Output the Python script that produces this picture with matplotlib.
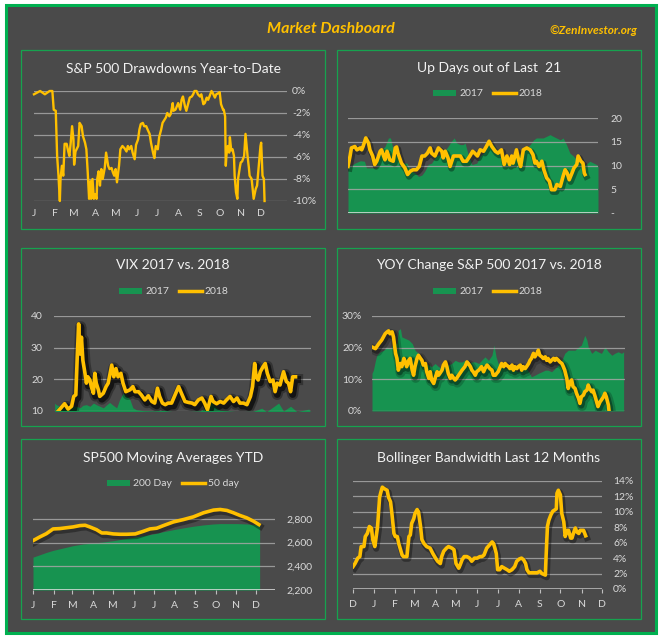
import matplotlib.pyplot as plt
import matplotlib.patheffects as pe
from matplotlib.patches import Rectangle, Patch
from matplotlib.lines import Line2D

plt.rcParams['font.family'] = ['Lato', 'DejaVu Sans']

# ---- data (x = day of year) ----
months = ['J', 'F', 'M', 'A', 'M', 'J', 'J', 'A', 'S', 'O', 'N', 'D']
month_day = [0, 31, 59, 90, 120, 151, 181, 212, 243, 273, 304, 334]
bb_months = ['D'] + months
bb_month_day = [0, 31, 62, 90, 121, 151, 182, 212, 243, 274, 304, 335, 365]

dd_day = [0, 9, 16, 23, 27, 29, 32, 34, 36, 38,
          39, 41, 43, 45, 48, 50, 52, 54, 56, 58,
          59, 61, 65, 67, 70, 72, 75, 77, 79, 81,
          83, 84, 86, 88, 90, 92, 93, 95, 97, 98,
          99, 101, 104, 106, 109, 111, 114, 116, 118, 120,
          122, 125, 127, 130, 133, 136, 138, 140, 143, 145,
          148, 150, 153, 155, 157, 160, 162, 165, 167, 170,
          172, 175, 177, 179, 182, 184, 187, 189, 192, 194,
          196, 199, 201, 204, 205, 208, 210, 212, 215, 217,
          219, 222, 224, 227, 229, 232, 234, 236, 239, 241,
          244, 246, 249, 251, 254, 256, 258, 261, 263, 266,
          268, 271, 273, 275, 278, 279, 281, 282, 283, 285,
          287, 288, 290, 292, 294, 295, 297, 299, 300, 303,
          304, 306, 309, 311, 314, 316, 317, 320, 322, 323,
          326, 328, 331, 333, 334, 336, 338, 339]
dd_pct = [-0.3, 0, -0.3, 0, 0, -1.7, -1.8, -5.9, -7.7, -10,
          -8, -6.8, -7.7, -4.8, -4.8, -5.4, -5.9, -4.7, -3.2, -4.4,
          -6.7, -5.5, -5.0, -2.9, -3.2, -4.1, -4.7, -5.3, -7.4, -9.8,
          -8.2, -9.8, -8.0, -9.8, -9.4, -9.8, -8.0, -7.3, -8.6, -7.7,
          -7.1, -8.0, -7.0, -5.6, -6.8, -7.1, -7.0, -7.4, -7.7, -7.1,
          -8.3, -6.8, -5.3, -5.0, -5.2, -5.5, -5.0, -5.3, -5.0, -5.6,
          -6.2, -4.9, -4.4, -3.5, -3.0, -2.9, -3.2, -3.2, -3.5, -3.9,
          -4.7, -5.6, -6.1, -5.0, -5.3, -4.2, -3.5, -2.9, -2.6, -2.4,
          -2.0, -2.3, -2.1, -1.1, -1.8, -1.7, -1.4, -1.1, -1.7, -0.8,
          -0.5, -1.4, -1.8, -1.1, -0.6, -0.5, -0.3, 0, 0, -0.3,
          -0.5, -0.3, -1.2, -1.1, -0.6, -0.8, -0.5, 0, -0.2, -0.6,
          -0.3, -0.2, -0.1, -1.2, -1.7, -1.7, -2.3, -6.8, -5.8, -5.0,
          -5.6, -4.2, -5.4, -5.3, -5.9, -7.7, -9.2, -9.8, -8.0, -6.8,
          -6.5, -6.4, -5.9, -3.9, -5.9, -7.0, -7.7, -8.0, -9.2, -9.8,
          -8.9, -8.6, -6.5, -5.0, -4.7, -7.7, -8.0, -10]

up17_day = [0, 3, 10, 18, 24, 27, 42, 44, 49, 54,
            59, 62, 66, 71, 76, 86, 91, 98, 103, 108,
            112, 117, 122, 129, 139, 146, 151, 155, 159, 164,
            168, 171, 176, 181, 188, 193, 198, 202, 207, 212,
            217, 222, 227, 232, 239, 246, 254, 261, 266, 271,
            275, 285, 295, 300, 310, 314, 319, 324, 329, 334,
            339, 344, 353, 363, 365]
up17_val = [9.8, 9.8, 10.5, 11, 10.9, 9.5, 9.5, 12, 13.3, 14,
            15.8, 15.8, 13.3, 12, 10.5, 10.5, 9, 8.4, 7.7, 8,
            8.8, 10.2, 10.5, 12, 12.6, 14, 15.1, 15.8, 14.7, 14.4,
            14.4, 14.7, 12, 10.2, 10.5, 12, 12.6, 13.7, 14.7, 14.4,
            13.3, 12, 10.9, 10.5, 11.2, 12, 12.6, 13.7, 14.4, 15.4,
            15.8, 15.8, 16.5, 16.1, 15.4, 15.8, 14.4, 12.6, 12, 11.2,
            10.5, 9.8, 10.9, 10.2, 9.8]
up18_day = [0, 3, 5, 10, 13, 18, 20, 22, 26, 30,
            32, 36, 39, 42, 47, 49, 52, 54, 57, 61,
            66, 69, 71, 73, 78, 83, 87, 91, 95, 100,
            104, 108, 112, 116, 120, 122, 127, 132, 137, 139,
            142, 146, 149, 154, 159, 164, 168, 173, 178, 182,
            185, 189, 193, 198, 202, 206, 210, 215, 219, 224,
            228, 232, 236, 239, 241, 246, 249, 252, 256, 261,
            266, 270, 273, 275, 279, 283, 286, 290, 294, 297,
            302, 305, 310, 314, 317, 320, 323, 327, 330, 334,
            336, 340, 343, 345, 346]
up18_val = [9.8, 12, 13.7, 14, 13.3, 13.7, 13.3, 14, 15.8, 14.7,
            13.3, 12, 10.2, 10.9, 13, 13.3, 12, 11.2, 13, 11.2,
            10.9, 13.7, 13.9, 12.6, 10.5, 9.5, 8.1, 8.8, 9.1, 9.1,
            9.8, 12, 12, 12.6, 13.7, 12.6, 12, 13.7, 13, 11.6,
            13, 11.6, 9.8, 12, 12, 12, 10.9, 10.9, 12, 13,
            12.6, 12, 13.3, 13, 14, 15.1, 14, 13, 12.6, 13.3,
            10.2, 12, 10.2, 12, 10.5, 13.3, 11.2, 9.8, 13.3, 13.7,
            13.3, 12.3, 10.5, 10.9, 9.8, 10.9, 9.1, 7.4, 6.7, 4.9,
            4.9, 6, 5.6, 7.7, 9.1, 8.4, 7, 8.4, 9.5, 10.2,
            12, 10.9, 10.5, 8.4, 8.1]

vix17_day = [1, 3, 8, 13, 18, 22, 27, 32, 37, 41,
             46, 51, 56, 60, 65, 70, 75, 79, 84, 89,
             93, 98, 103, 108, 112, 117, 127, 141, 155, 169,
             188, 207, 217, 222, 226, 236, 260, 283, 295, 302,
             319, 326, 336, 345, 362, 364]
vix17_val = [12.5, 12, 11.5, 11, 10.4, 10.4, 11.5, 11.5, 11, 11.8,
             12, 11.5, 12.5, 12, 11.5, 11, 12, 12.7, 11.8, 11,
             13.5, 15.6, 15, 13.5, 11, 10.4, 10.1, 10, 10.2, 9.8,
             9.8, 10, 11, 15.6, 12, 10.2, 9.8, 9.9, 10.9, 9.8,
             12.5, 10, 11.5, 9.8, 10.6, 9.8]
vix18_day = [6, 10, 15, 20, 25, 28, 31, 33, 35, 37,
             39, 41, 44, 46, 48, 51, 53, 56, 58, 60,
             63, 65, 70, 74, 77, 82, 85, 88, 91, 95,
             98, 102, 108, 112, 115, 120, 124, 129, 134, 139,
             143, 147, 150, 154, 158, 162, 167, 172, 177, 181,
             186, 191, 196, 200, 205, 210, 214, 218, 223, 226,
             231, 236, 241, 245, 250, 255, 260, 264, 269, 274,
             279, 282, 285, 287, 290, 293, 297, 300, 303, 307,
             311, 314, 317, 321, 326, 330, 333, 336, 339, 343]
vix18_val = [10, 11, 12.3, 10.6, 11.5, 14.6, 15.1, 27, 37.5, 28,
             33.3, 26, 21.9, 18.8, 20.8, 19.8, 17.7, 15.6, 21.9, 18.8,
             16.7, 14.6, 15.6, 17.7, 18.8, 24.5, 20.8, 23.4, 20.8, 21.9,
             18.8, 16.1, 16.7, 17.7, 16.1, 16.1, 15.1, 13.5, 14.8, 13,
             12.5, 17.2, 14.6, 12.5, 12, 12.5, 12.5, 15.1, 17.7, 15.6,
             13, 12.7, 12.5, 12, 13.5, 14.1, 12.5, 10.4, 14.6, 13,
             12.3, 13, 12.5, 13.5, 14.6, 13, 14.1, 12.5, 12.5, 12,
             14.6, 17.7, 25, 20.8, 19.8, 22.4, 24, 25, 21.9, 19.3,
             19.8, 16.1, 18.8, 18.2, 22.4, 19.3, 18.8, 16.1, 20.8, 20.8]

yoy17_day = [0, 2, 5, 7, 12, 17, 22, 26, 31, 36,
             38, 41, 43, 48, 53, 58, 62, 67, 72, 77,
             82, 86, 91, 96, 101, 106, 110, 115, 120, 125,
             130, 134, 139, 144, 149, 154, 158, 163, 168, 173,
             176, 179, 182, 187, 192, 197, 202, 206, 211, 216,
             221, 226, 230, 235, 240, 245, 250, 254, 259, 264,
             269, 274, 278, 283, 288, 293, 298, 302, 307, 310,
             312, 317, 322, 326, 331, 336, 341, 346, 350, 355,
             360, 363]
yoy17_val = [11.9, 12.9, 16, 17.6, 18.7, 19.2, 20.2, 19.7, 21.3, 21.3,
             25.5, 26, 23.4, 22.9, 22.4, 21.3, 19.2, 18.2, 16, 15,
             14.5, 14, 15, 14, 13.4, 15, 14.5, 15, 16, 15.5,
             15.5, 16, 15, 15.5, 15.5, 15, 16, 17.1, 16, 17.6,
             20.8, 17.1, 15, 14.5, 13.4, 13.4, 13.4, 12.9, 12.4, 13.4,
             14, 12.4, 10.8, 11.3, 11.9, 12.4, 12.9, 12.9, 12.4, 13.4,
             14.5, 16, 18.2, 19.2, 19.2, 19.2, 20.2, 20.8, 23.9, 22.4,
             20.2, 18.2, 19.2, 18.7, 18.2, 20.2, 18.7, 17.6, 18.2, 18.7,
             18.2, 18.7]
yoy18_day = [0, 5, 10, 14, 19, 22, 24, 26, 29, 31,
             34, 36, 38, 41, 43, 46, 48, 50, 53, 55,
             58, 60, 62, 65, 67, 70, 72, 74, 77, 79,
             82, 84, 86, 89, 91, 94, 96, 98, 101, 103,
             106, 108, 110, 113, 115, 118, 120, 122, 125, 130,
             134, 137, 139, 142, 144, 146, 149, 151, 154, 156,
             158, 161, 163, 166, 168, 170, 173, 175, 178, 180,
             182, 185, 187, 190, 192, 194, 197, 199, 202, 204,
             206, 209, 211, 214, 216, 218, 221, 223, 226, 228,
             230, 233, 235, 238, 240, 242, 245, 247, 250, 252,
             254, 257, 259, 262, 264, 266, 269, 271, 274, 276,
             278, 281, 283, 286, 288, 290, 293, 295, 298, 300,
             302, 305, 307, 310, 312, 314, 317, 319, 322, 324,
             326, 329, 331, 334, 336, 338, 341, 342]
yoy18_val = [20.2, 19.7, 21.3, 22.4, 24.4, 25, 25.3, 24.4, 25, 23.4,
             18.2, 16.6, 12.9, 15, 14, 16.6, 15.5, 14, 16, 16.6,
             12.9, 11.3, 14, 16.6, 17.6, 16.6, 16, 14.5, 15, 12.4,
             10.3, 12.4, 9.8, 8.7, 10.3, 12.4, 11.3, 11.9, 12.9, 14.5,
             15.5, 14, 11.9, 10.3, 11.3, 10.3, 9.8, 10.3, 11.3, 12.9,
             14, 15.5, 15, 14, 12.9, 12.4, 11.3, 12.4, 12.9, 13.4,
             14, 12.4, 13.4, 14.5, 14, 13.4, 12.9, 11.3, 11.3, 11.9,
             12.4, 14, 15, 14, 15, 14.5, 14, 13.4, 14.5, 12.9,
             14, 13.4, 14, 14.5, 12.9, 14, 13.4, 14, 15, 16,
             16.6, 18.2, 17.1, 18.2, 19.2, 17.6, 17.1, 16.6, 17.1, 16,
             16.6, 15.5, 16, 16.6, 16, 16.6, 16, 15.5, 15, 14,
             12.9, 10.3, 7.1, 9.2, 9.8, 7.7, 7.1, 5.6, 4, 2.4,
             4.5, 5, 6.1, 6.6, 8.2, 7.1, 6.1, 6.6, 4.5, 2.9,
             1.4, 2.9, 3.5, 4.5, 5.6, 4.5, 1.9, 0]

ma200_day = [0, 10, 20, 30, 45, 60, 75, 90, 105, 120, 135, 150, 165,
             180, 195, 210, 225, 240, 255, 270, 280, 305, 320, 330, 339]
ma200_val = [2477, 2497, 2517, 2534, 2554, 2574, 2588, 2596, 2605, 2616,
             2630, 2644, 2658, 2673, 2692, 2709, 2724, 2738, 2749, 2757,
             2760, 2760, 2757, 2752, 2746]
ma50_day = [0, 10, 20, 30, 40, 50, 60, 70, 78, 85, 95, 103, 110, 120,
            130, 140, 153, 165, 175, 185, 195, 210, 225, 240, 255, 270,
            280, 290, 300, 310, 320, 330, 338]
ma50_val = [2616, 2647, 2675, 2715, 2718, 2725, 2732, 2743, 2746, 2732,
            2709, 2681, 2681, 2673, 2670, 2670, 2673, 2695, 2715, 2721,
            2743, 2774, 2794, 2817, 2851, 2874, 2879, 2871, 2851, 2828,
            2808, 2780, 2752]

# Bollinger: day 0 = 1 Dec 2017
bb_day = [0, 3, 7, 10, 12, 16, 18, 21, 24, 27,
          29, 32, 34, 36, 39, 41, 43, 46, 50, 52,
          55, 57, 60, 62, 65, 67, 69, 72, 74, 79,
          82, 84, 86, 89, 91, 94, 96, 99, 101, 104,
          108, 113, 117, 121, 124, 128, 130, 133, 137, 140,
          145, 148, 151, 155, 157, 160, 163, 167, 171, 174,
          178, 182, 186, 189, 192, 196, 200, 204, 206, 208,
          210, 212, 215, 218, 222, 226, 229, 233, 237, 240,
          244, 247, 250, 253, 255, 258, 262, 266, 270, 274,
          277, 282, 283, 285, 287, 290, 293, 295, 298, 299,
          301, 304, 306, 309, 311, 314, 316, 319, 321, 323,
          326, 328, 331, 333, 336, 338, 341]
bb_val = [2.9, 3.3, 4, 4.2, 5.5, 5.5, 6.8, 7.2, 8.1, 7.9,
          6.4, 5.5, 6.8, 8.1, 11.9, 12.6, 13.2, 13, 12.8, 11.9,
          11.3, 9.8, 7.2, 6.8, 6.8, 5.9, 5.3, 4.4, 4.2, 4.2,
          6.8, 7, 8.5, 9.1, 9.8, 10.3, 10, 8.1, 6.4, 5.9,
          5.5, 5.3, 4.6, 4, 3.6, 3.3, 4.2, 4.9, 5.3, 5.5,
          5.3, 5.1, 3.3, 2.7, 3.1, 3.8, 4.2, 4.2, 4, 3.6,
          4, 4, 4.2, 4.2, 4.4, 5.3, 5.7, 6.1, 5.9, 5.3,
          4.6, 2.5, 2.5, 2.9, 2.7, 2.5, 2.3, 2.5, 2.9, 3.6,
          3.9, 4, 3.8, 3.3, 2.5, 2.1, 2.1, 2.1, 2.1, 2.3,
          2, 1.8, 4.2, 8.1, 8.9, 9.6, 10.1, 10.2, 10.4, 12.4,
          12.8, 12.2, 9.8, 8.7, 6.8, 7.6, 7.6, 6.6, 6.6, 7.2,
          7.9, 7.4, 7.2, 7.6, 7.6, 7.6, 6.9]

# ---- style ----
W, H = 659, 638
BG = '#4a4a4a'
GREEN = '#179350'
GOLD = '#ffc000'
GRID = '#a6a6a6'
TXT = '#d9d9d9'
TITLE = '#f2f2f2'

fig = plt.figure(figsize=(W / 100, H / 100), dpi=100)
fig.patch.set_facecolor('white')


def box(l, t, r, b):
    return [l / W, 1 - b / H, (r - l) / W, (b - t) / H]


fig.add_artist(Rectangle((5.5 / W, 1 - 633 / H), 650 / W, 628 / H, transform=fig.transFigure,
                         facecolor=BG, edgecolor='#00b050', lw=2.2, zorder=-10))
fig.text(331 / W, 1 - 29 / H, 'Market Dashboard', color=GOLD, fontsize=11.5,
         fontweight='bold', fontstyle='italic', ha='center', va='center')
fig.text(637 / W, 1 - 30 / H, '\u00a9ZenInvestor.org', color=GOLD, fontsize=8.5,
         fontweight='bold', fontstyle='italic', ha='right', va='center')

panels = [(21, 50, 325, 229), (337, 50, 641, 229),
          (21, 248, 325, 426), (337, 248, 641, 426),
          (21, 439, 325, 619), (337, 439, 641, 619)]
titles = ['S&P 500 Drawdowns Year-to-Date', 'Up Days out of Last  21',
          'VIX 2017 vs. 2018', 'YOY Change S&P 500 2017 vs. 2018',
          'SP500 Moving Averages YTD', 'Bollinger Bandwidth Last 12 Months']
title_y = [69, 68, 265, 265, 458, 458]
for (l, t, r, b), ttl, ty in zip(panels, titles, title_y):
    fig.add_artist(Rectangle((l / W, 1 - b / H), (r - l) / W, (b - t) / H,
                             transform=fig.transFigure, fill=False,
                             edgecolor='#16a34f', lw=0.9, zorder=-5))
    fig.text((l + r) / 2 / W, 1 - ty / H, ttl, color=TITLE, fontsize=10,
             ha='center', va='center')

strong = [pe.SimpleLineShadow(offset=(1.5, -2), shadow_color='black', alpha=0.3, linewidth=8),
          pe.SimpleLineShadow(offset=(1.5, -2), shadow_color='black', alpha=0.6, linewidth=5),
          pe.Normal()]
medium = [pe.SimpleLineShadow(offset=(1.5, -2), shadow_color='black', alpha=0.2, linewidth=7),
          pe.SimpleLineShadow(offset=(1, -1.5), shadow_color='black', alpha=0.35, linewidth=4.5),
          pe.Normal()]
mild = [pe.SimpleLineShadow(offset=(1, -1.5), shadow_color='black', alpha=0.35, linewidth=4.5),
        pe.Normal()]


def base(ax, yticks, ylabels, side, pad, xlim, ylim):
    ax.set_facecolor('none')
    for s in ax.spines.values():
        s.set_visible(False)
    ax.set_xlim(*xlim)
    ax.set_ylim(*ylim)
    ax.set_yticks(yticks)
    ax.set_yticklabels(ylabels)
    for v in yticks:
        ax.axhline(v, color=GRID, lw=0.9, zorder=1.5, alpha=0.85)
    if side == 'right':
        ax.yaxis.tick_right()
    ax.tick_params(axis='y', length=0, pad=pad, labelsize=7.5, labelcolor=TXT)
    ax.tick_params(axis='x', length=0, labelsize=7.5, labelcolor=TXT, pad=6)
    ax.set_xticks([])


def legend(cx, cy, names):
    handles = [Patch(facecolor=GREEN, edgecolor='none'), Line2D([], [], color=GOLD, lw=2.5)]
    fig.legend(handles, names, loc='center', bbox_to_anchor=(cx / W, 1 - cy / H), ncol=2,
               frameon=False, fontsize=7.5, labelcolor=TXT, handlelength=2.2,
               handleheight=0.6, handletextpad=0.3, columnspacing=0.9)


# 1. drawdowns
ax1 = fig.add_axes(box(34, 91, 287, 201))
base(ax1, [0, -2, -4, -6, -8, -10], ['0%', '-2%', '-4%', '-6%', '-8%', '-10%'],
     'right', 3.6, (0, 372), (-10, 0))
ax1.plot(dd_day, dd_pct, color=GOLD, lw=1.7, zorder=3, clip_on=False)
ax1.set_xticks(month_day)
ax1.set_xticklabels(months)

# 2. up days
ax2 = fig.add_axes(box(348, 118, 598, 213))
base(ax2, [0, 5, 10, 15, 20], ['-', '5', '10', '15', '20'], 'right', 9, (0, 365), (0, 20))
ax2.fill_between(up17_day, up17_val, 0, color=GREEN, lw=0, zorder=1)
ax2.axhline(0, color='#e0e0e0', lw=1.1, zorder=2)
ax2.plot(up18_day, up18_val, color=GOLD, lw=2.6, zorder=3, path_effects=mild)
legend(488, 94, ['2017', '2018'])

# 3. VIX
ax3 = fig.add_axes(box(54, 316, 311, 411))
base(ax3, [10, 20, 30, 40], ['10', '20', '30', '40'], 'left', 8, (0, 365), (10, 40))
ax3.fill_between(vix17_day, vix17_val, 0, color=GREEN, lw=0, zorder=1)
ax3.plot(vix18_day, vix18_val, color=GOLD, lw=2.6, zorder=3, path_effects=strong)
legend(174, 292, ['2017', '2018'])

# 4. YOY change
ax4 = fig.add_axes(box(372, 316, 625, 411))
base(ax4, [0, 10, 20, 30], ['0%', '10%', '20%', '30%'], 'left', 7, (0, 365), (0, 30))
ax4.fill_between(yoy17_day, yoy17_val, 0, color=GREEN, lw=0, zorder=1)
ax4.plot(yoy18_day, yoy18_val, color=GOLD, lw=2.6, zorder=3, path_effects=medium)
legend(488, 292, ['2017', '2018'])

# 5. moving averages
ax5 = fig.add_axes(box(33, 507, 275, 590))
base(ax5, [2200, 2400, 2600, 2800], ['2,200', '2,400', '2,600', '2,800'], 'right', 8.5,
     (0, 362), (2200, 2900))
ax5.fill_between(ma200_day, ma200_val, 2200, color=GREEN, lw=0, zorder=1)
ax5.axhline(2200, color='#e0e0e0', lw=1.1, zorder=2)
ax5.plot(ma50_day, ma50_val, color=GOLD, lw=2.6, zorder=3, path_effects=mild)
ax5.set_xticks(month_day)
ax5.set_xticklabels(months)
ax5.tick_params(axis='x', length=3, color='#bfbfbf', pad=5)
legend(173, 484, ['200 Day', '50 day'])

# 6. Bollinger bandwidth
ax6 = fig.add_axes(box(353, 481, 602, 589))
base(ax6, list(range(0, 15, 2)), ['%d%%' % v for v in range(0, 15, 2)], 'right', 8,
     (0, 365), (0, 14))
ax6.axhline(0, color='#bfbfbf', lw=1.1, zorder=2)
ax6.plot(bb_day, bb_val, color=GOLD, lw=2.6, zorder=3, path_effects=mild)
ax6.set_xticks(bb_month_day)
ax6.set_xticklabels(bb_months)
ax6.tick_params(axis='x', length=3, color='#bfbfbf', pad=5)

fig.savefig('out.png', dpi=100, facecolor='white')
